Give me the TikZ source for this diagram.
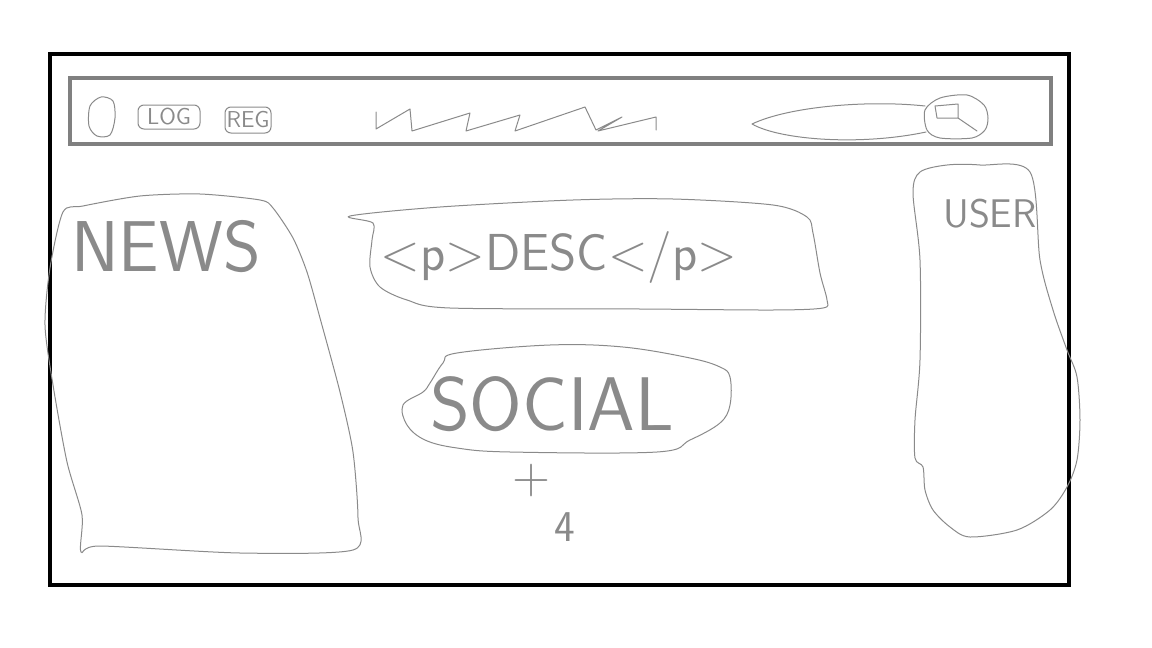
\documentclass[tikz,border=0pt]{standalone}
\usepackage{tikz}
\usetikzlibrary{positioning}
\definecolor{sketchgray}{HTML}{8A8A8A}
\definecolor{bargray}{HTML}{808080}

\begin{document}
\begin{tikzpicture}[x=0.5pt,y=-0.5pt,
    sketchline/.style={draw=sketchgray, line width=0.5pt, line join=round, line cap=round},
    handtext/.style={text=sketchgray, font=\sffamily, inner sep=0pt},
    btnbox/.style={draw=sketchgray, line width=0.5pt, rounded corners=3pt, inner sep=0pt,
      font=\sffamily\fontsize{11.5}{11.5}\selectfont, text=sketchgray}]
  \useasboundingbox (0,0) rectangle (1152,648);
  % page frame and header bar
  \draw[line width=2pt] (50,54) rectangle (1069,585);
  \draw[bargray, line width=2pt] (70,78) rectangle (1051,144);

  % header: logo, buttons, title scribble, search
  \draw[sketchline] plot[smooth cycle] coordinates {(101,97) (113,101) (115,118) (110,135) (97,136) (89,126) (90,106)};
  \node[btnbox, minimum width=31pt, minimum height=12pt] (logbtn) at (169,117) {LOG};
  \node[btnbox, minimum width=23pt, minimum height=13pt, right=12pt of logbtn, yshift=-1.5pt] (regbtn) {REG};
  \draw[sketchline] (376,112) -- (376,129) -- (410,109) -- (412,131) -- (470,113) -- (466,131)
    -- (520,115) -- (515,131) -- (585,107) -- (596,130) -- (622,117) -- (598,131) -- (656,117) -- (656,130);
  \draw[sketchline] (925,106) .. controls (870,100) and (790,106) .. (752,124)
    .. controls (780,140) and (860,146) .. (926,132);
  \draw[sketchline] plot[smooth cycle] coordinates {(925,110) (940,98) (967,95) (984,105) (988,118) (985,130) (972,138) (940,138) (927,130)};
  \draw[sketchline] (958,118) -- (937,118) -- (935,106) -- (958,104) -- (958,118) -- (977,131);

  % news column
  \draw[sketchline] plot[smooth cycle, tension=0.45] coordinates {(83,206) (140,196) (200,194) (260,200) (273,208)
    (293,238) (307,272) (320,318) (340,392) (353,452) (358,518) (353,550) (240,553) (100,546) (81,552)
    (82,515) (67,462) (53,385) (45,325) (50,268) (63,212)};
  \node[handtext, font=\sffamily\fontsize{36}{36}\selectfont] (news) at (166,247) {NEWS};

  % description box
  \draw[sketchline] plot[smooth cycle, tension=0.5] coordinates {(350,216) (440,207) (573,200) (673,199) (773,205)
    (807,217) (813,233) (820,273) (827,300) (823,308) (773,310) (640,309) (450,308) (407,300)
    (380,287) (370,267) (372,240) (373,223)};
  \node[handtext, font=\sffamily\fontsize{26}{26}\selectfont] (desc) at (559,257) {<p>DESC</p>};

  % social box
  \draw[sketchline] plot[smooth cycle, tension=0.6] coordinates {(423,392) (403,405) (407,425) (425,440) (457,448)
    (510,452) (657,452) (690,440) (720,423) (730,405) (730,377) (720,367) (690,358) (623,347)
    (550,345) (457,353) (443,363) (430,383)};
  \node[handtext, font=\sffamily\fontsize{38}{38}\selectfont] (social) at (552,404) {SOCIAL};
  \node[handtext, font=\sffamily\fontsize{26}{26}\selectfont] (plus) at (532,481) {+};
  \node[handtext, font=\sffamily\fontsize{22}{22}\selectfont] (four) at (565,527) {4};

  % user panel
  \draw[sketchline] plot[smooth cycle, tension=0.5] coordinates {(920,172) (947,165) (980,165) (1030,172)
    (1040,260) (1053,310) (1067,350) (1077,377) (1080,420) (1077,460) (1067,487) (1050,510)
    (1017,530) (970,537) (950,527) (933,510) (925,490) (923,467) (915,458) (915,420) (920,360)
    (920,260) (913,193)};
  \node[handtext, font=\sffamily\fontsize{20}{20}\selectfont] (user) at (990,214) {USER};
\end{tikzpicture}
\end{document}
